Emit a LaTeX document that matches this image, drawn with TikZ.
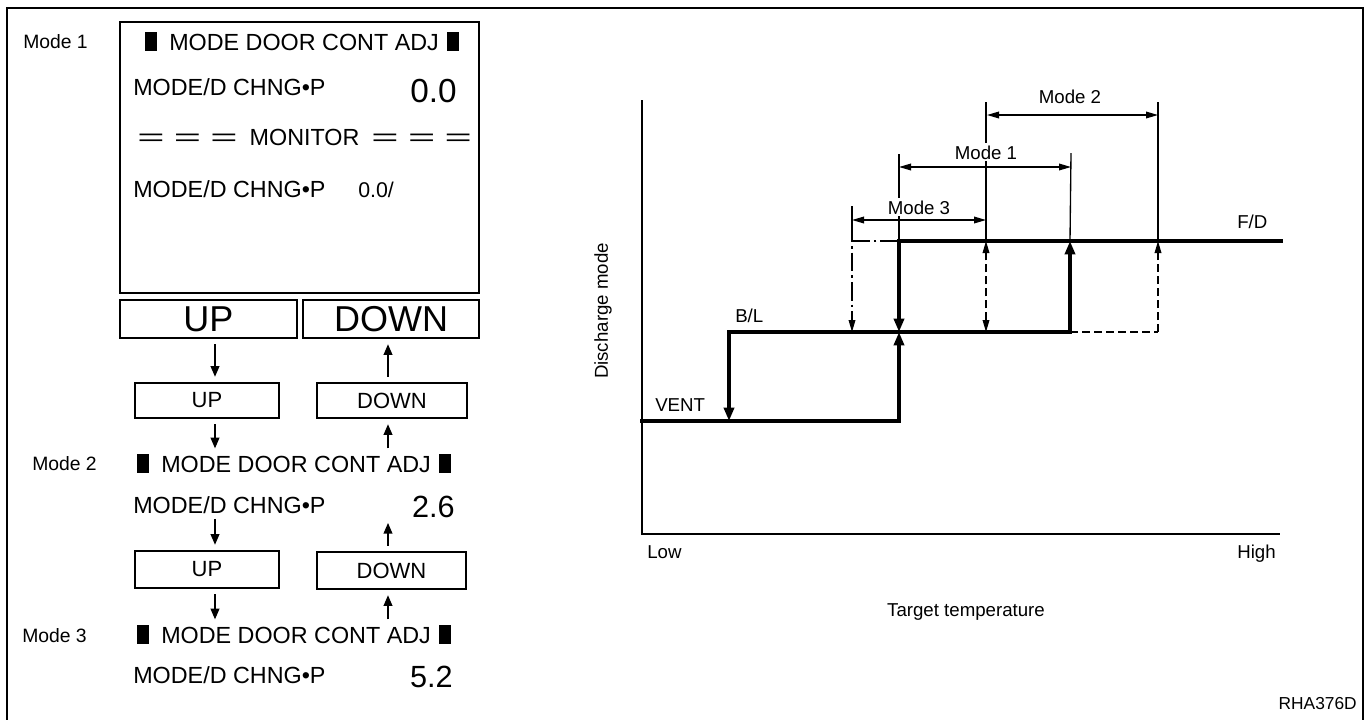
\documentclass[tikz,border=0pt]{standalone}
\usepackage{fontspec}
\setmainfont{Liberation Sans}
\usepackage{graphicx}
\usepackage{xcolor}
\usetikzlibrary{arrows.meta}

\newcommand{\fsz}[1]{\fontsize{#1}{#1}\selectfont}
\newcommand{\blk}{\rule[-0.5pt]{9pt}{14pt}}
\newcommand{\eqbar}{\scalebox{2}[1]{=}}

\tikzset{
  frame/.style={line width=1.6pt},
  box/.style={draw, line width=1.3pt, inner sep=0pt},
  lcd/.style={inner sep=0pt, anchor=base west, font=\fsz{17.5}},
  num/.style={inner sep=0pt, anchor=base east},
  tag/.style={inner sep=0pt, anchor=base west, font=\fsz{14.5}},
  gtxt/.style={inner sep=0pt, font=\fsz{14}},
  bigtri/.tip={Triangle[length=10pt,width=7.5pt]},
  smtri/.tip={Triangle[length=9pt,width=5pt]},
  arr/.style={line width=1.2pt, -{Triangle[length=8pt,width=6.5pt]}, shorten >=4pt, shorten <=4pt},
  thickline/.style={line width=2.5pt, line cap=rect},
  thinline/.style={line width=1pt},
  dashline/.style={line width=1pt, dash pattern=on 6pt off 3pt},
  dotline/.style={line width=1pt, dash pattern=on 14pt off 3pt on 2pt off 3pt}
}

\begin{document}
\begin{tikzpicture}[x=0.75pt, y=-0.75pt]
        \useasboundingbox (0,0) rectangle (1370,719);

        % outer frame, open at the bottom
        \draw[frame] (7,730) -- (7,8) -- (1363,8) -- (1363,730);

        % x positions of the left arrows
        \coordinate (ax) at (215,0);
        \coordinate (bx) at (388,0);

        % Mode 1 screen
        \node[tag] (mode1) at (23,48) {Mode 1};
        \node[box, minimum width=269.25pt, minimum height=203.25pt] (screen) at (299.5,157.5) {};
        \node[lcd] (hdra) at (145,50) {\blk\hspace{9pt}MODE DOOR CONT ADJ\hspace{6pt}\blk};
        \node[lcd] (vala) at (133,95) {MODE/D CHNG•P};
        \node[num, font=\fsz{25}] (numa) at (457,102) {0.0};
        \node[lcd] (mon) at (137,145) {\eqbar\hspace{7pt}\eqbar\hspace{7pt}\eqbar\hspace{9pt}MONITOR\hspace{9pt}\eqbar\hspace{7pt}\eqbar\hspace{7pt}\eqbar};
        \node[lcd] (mona) at (133,197) {MODE/D CHNG•P};
        \node[lcd, font=\fsz{16}] (monnum) at (358,197) {0.0/};

        % switches
        \node[box, minimum width=132.75pt, minimum height=28.5pt, font=\fsz{27}] (bigup) at (208.5,319) {UP};
        \node[box, minimum width=132pt, minimum height=28.5pt, font=\fsz{27}] (bigdown) at (391,319) {DOWN};
        \node[box, minimum width=108pt, minimum height=26.25pt, font=\fsz{16.5}] (upa) at (207,400.5) {UP};
        \node[box, minimum width=112.5pt, minimum height=26.25pt, font=\fsz{16.5}] (downa) at (392,400.5) {DOWN};

        % Mode 2
        \node[tag] (mode2) at (32,470) {Mode 2};
        \node[lcd] (hdrb) at (137,472) {\blk\hspace{9pt}MODE DOOR CONT ADJ\hspace{6pt}\blk};
        \node[lcd] (valb) at (133,513) {MODE/D CHNG•P};
        \node[num, font=\fsz{23}] (numb) at (455,517) {2.6};
        \node[box, minimum width=108pt, minimum height=27.75pt, font=\fsz{16.5}] (upb) at (207,569.5) {UP};
        \node[box, minimum width=111.75pt, minimum height=27.75pt, font=\fsz{16.5}] (downb) at (391.5,570.5) {DOWN};

        % Mode 3
        \node[tag] (mode3) at (22,642) {Mode 3};
        \node[lcd] (hdrc) at (137,643) {\blk\hspace{9pt}MODE DOOR CONT ADJ\hspace{6pt}\blk};
        \node[lcd] (valc) at (133,683) {MODE/D CHNG•P};
        \node[num, font=\fsz{23}] (numc) at (453,687) {5.2};

        % arrows between the steps
        \draw[arr] (bigup.south -| ax) -- (upa.north -| ax);
        \draw[arr] (downa.north -| bx) -- (bigdown.south -| bx);
        \draw[arr] (upa.south -| ax) -- (hdrb.north -| ax);
        \draw[arr] (hdrb.north -| bx) -- (downa.south -| bx);
        \draw[arr] (valb.south -| ax) -- (upb.north -| ax);
        \draw[arr] (downb.north -| bx) -- (numb.south -| bx);
        \draw[arr] (upb.south -| ax) -- (hdrc.north -| ax);
        \draw[arr] (hdrc.north -| bx) -- (downb.south -| bx);

        % Graph: axes
        \coordinate (O) at (642,534);      % origin
        \coordinate (Ytop) at (642,100);   % top of y axis
        \coordinate (Xend) at (1280,534);  % end of x axis
        \draw[line width=1.1pt] (Ytop) -- (O) -- (Xend);

        % VENT level
        \coordinate (V0) at (642,421);
        \coordinate (V1) at (729,421);
        \coordinate (V2) at (899,421);
        % B/L level
        \coordinate (B1) at (729,332);
        \coordinate (B2) at (852,332);
        \coordinate (B3) at (899,332);
        \coordinate (B4) at (986,332);
        \coordinate (B5) at (1070,332);
        \coordinate (B6) at (1158,332);
        % F/D level
        \coordinate (F2) at (852,241);
        \coordinate (F3) at (899,241);
        \coordinate (F4) at (986,241);
        \coordinate (F5) at (1070,241);
        \coordinate (F6) at (1158,241);
        \coordinate (F7) at (1281,241);

        % thick steps
        \draw[thickline] (V0) -- (V2);
        \draw[thickline, -bigtri] (V2) -- (B3);
        \draw[thickline] (B1) -- (B5);
        \draw[thickline, -bigtri] (B5) -- (F5);
        \draw[thickline] (F3) -- (F7);
        \draw[thickline, -bigtri] (F3) -- (B3);
        \draw[thickline, -bigtri] (B1) -- (V1);

        % dashed steps
        \draw[dashline] (B5) -- (B6);
        \draw[dashline, -smtri] (B6) -- (F6);
        \draw[dashline, smtri-smtri] (B4) -- (F4);
        \draw[dotline, -smtri] (F3) -- (F2) -- (B2);

        % extension lines
        \draw[thinline] (852,206) -- (F2);
        \draw[thinline] (899,154) -- (F3);
        \draw[thinline] (986,102) -- (F4);
        \draw[thinline] (1071,153) -- (F5);
        \draw[thinline] (1158,102) -- (F6);

        % mode ranges
        \draw[thinline, smtri-smtri] (852,220) -- (986,220);
        \draw[thinline, smtri-smtri] (899,167) -- (1071,167);
        \draw[thinline, smtri-smtri] (987,115) -- (1158,115);
        \node[gtxt, anchor=base, fill=white, inner sep=1.5pt] (rng3) at (919,214) {Mode 3};
        \node[gtxt, anchor=base, fill=white, inner sep=1.5pt] (rng1) at (986,159) {Mode 1};
        \node[gtxt, anchor=base, fill=white, inner sep=1.5pt] (rng2) at (1070,103) {Mode 2};

        % labels
        \node[gtxt, anchor=base west] (fd) at (1237,228) {F/D};
        \node[gtxt, anchor=base west] (bl) at (735,322) {B/L};
        \node[gtxt, anchor=base west] (vent) at (655,411) {VENT};
        \node[gtxt, anchor=base west] (low) at (647,558) {Low};
        \node[gtxt, anchor=base east] (high) at (1276,558) {High};
        \node[gtxt, anchor=base] (xlab) at (966,616) {Target temperature};
        \node[gtxt, rotate=90] (ylab) at (603,311) {Discharge mode};
        \node[gtxt, anchor=base east, font=\fsz{13}] (code) at (1357,709) {RHA376D};
\end{tikzpicture}
\end{document}
